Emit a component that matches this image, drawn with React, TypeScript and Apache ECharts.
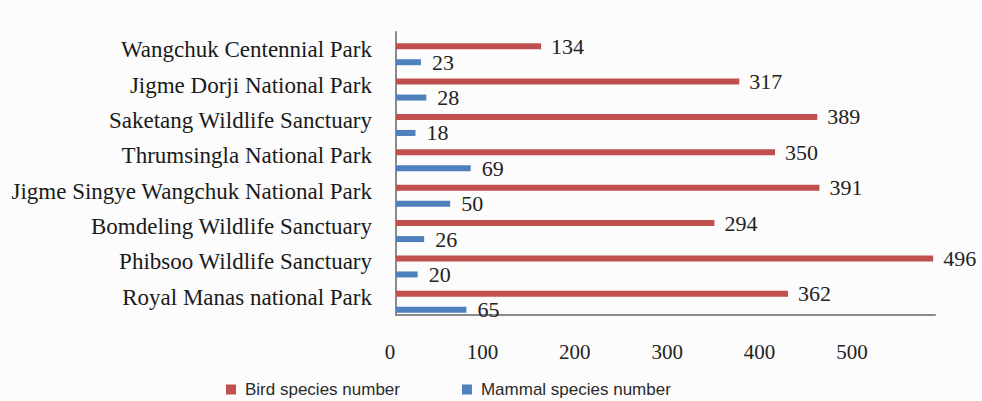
import React, { useEffect, useRef } from "react";
import * as echarts from "echarts";

const categories = [
  "Wangchuk Centennial Park",
  "Jigme Dorji National Park",
  "Saketang Wildlife Sanctuary",
  "Thrumsingla National Park",
  "Jigme Singye Wangchuk National Park",
  "Bomdeling Wildlife Sanctuary",
  "Phibsoo Wildlife Sanctuary",
  "Royal Manas national Park",
];
const birdSpecies = [134, 317, 389, 350, 391, 294, 496, 362];
const mammalSpecies = [23, 28, 18, 69, 50, 26, 20, 65];
const xTickLabels = ["0", "100", "200", "300", "400", "500"];

const SERIF = "'Liberation Serif', 'Times New Roman', serif";
const SANS = "'Liberation Sans', Arial, sans-serif";

export default function App() {
  const ref = useRef<HTMLDivElement>(null);
  useEffect(() => {
    if (!ref.current) return;
    const chart = echarts.init(ref.current, null, { renderer: "svg" });
    chart.setOption({
      animation: false,
      backgroundColor: "#fcfcfc",
      legend: {
        data: ["Bird species number", "Mammal species number"],
        left: 221,
        top: 376,
        icon: "rect",
        itemWidth: 10,
        itemHeight: 10,
        itemGap: 62,
        textStyle: { fontFamily: SANS, fontSize: 17, color: "#2a2a2a", padding: [0, 0, 0, 4] },
      },
      grid: [
        // bars
        { left: 396, right: 44.5, top: 36.5, bottom: 81.5 },
        // frame axes + category labels
        { left: 396, right: 47, top: 32, bottom: 86 },
        // tick labels
        { left: 390, right: 130, top: 32, bottom: 86 },
      ],
      xAxis: [
        {
          gridIndex: 0,
          type: "value",
          min: 0,
          max: 500,
          interval: 100,
          show: false,
          splitLine: { show: false },
        },
        {
          gridIndex: 1,
          type: "value",
          min: 0,
          max: 500,
          axisLine: { show: true, lineStyle: { color: "#8a8a8a", width: 2 } },
          axisTick: { show: false },
          axisLabel: { show: false },
          splitLine: { show: false },
        },
        {
          gridIndex: 2,
          type: "category",
          data: xTickLabels,
          boundaryGap: false,
          axisLine: { show: false },
          axisTick: { show: false },
          splitLine: { show: false },
          axisLabel: {
            show: true,
            margin: 26,
            fontFamily: SERIF,
            fontSize: 21,
            color: "#222",
            interval: 0,
          },
        },
      ],
      yAxis: [
        {
          gridIndex: 0,
          type: "category",
          data: categories,
          inverse: true,
          show: false,
        },
        {
          gridIndex: 1,
          type: "category",
          data: categories,
          inverse: true,
          axisLine: { show: true, lineStyle: { color: "#8a8a8a", width: 2 } },
          axisTick: { show: false },
          axisLabel: {
            margin: 24,
            fontFamily: SERIF,
            fontSize: 23,
            color: "#1a1a1a",
            interval: 0,
          },
          splitLine: { show: false },
        },
        {
          gridIndex: 2,
          type: "value",
          show: false,
          min: 0,
          max: 1,
        },
      ],
      series: [
        {
          name: "Bird species number",
          type: "bar",
          xAxisIndex: 0,
          yAxisIndex: 0,
          data: birdSpecies,
          barWidth: 6,
          barGap: "167%",
          itemStyle: { color: "#c0504d" },
          label: {
            show: true,
            position: "right",
            distance: 10,
            fontFamily: SERIF,
            fontSize: 22,
            color: "#222",
          },
        },
        {
          name: "Mammal species number",
          type: "bar",
          xAxisIndex: 0,
          yAxisIndex: 0,
          data: mammalSpecies,
          barWidth: 6,
          barGap: "167%",
          itemStyle: { color: "#4f81bd" },
          label: {
            show: true,
            position: "right",
            distance: 11,
            fontFamily: SERIF,
            fontSize: 22,
            color: "#222",
          },
        },
      ],
    });
    return () => chart.dispose();
  }, []);
  return (
    <div
      ref={ref}
      style={{ position: "fixed", left: 0, top: 0, width: 982, height: 401 }}
    />
  );
}
